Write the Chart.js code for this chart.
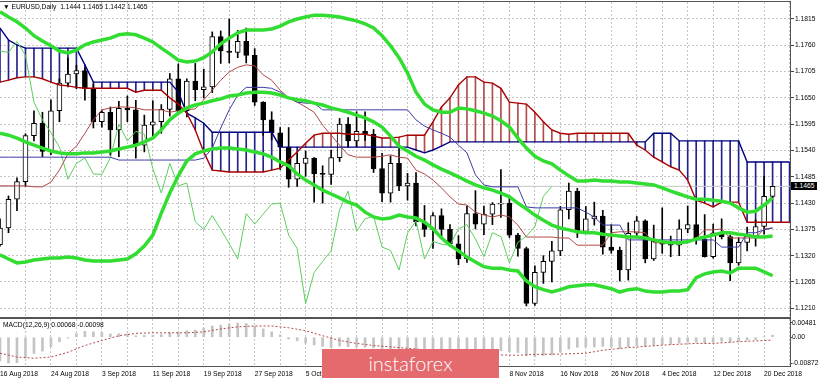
<!DOCTYPE html>
<html><head><meta charset="utf-8">
<script src="https://cdn.jsdelivr.net/npm/chart.js@4.4.1/dist/chart.umd.min.js"></script>
<style>
html,body{margin:0;padding:0;background:#fff;}
#wrap{position:relative;width:820px;height:380px;overflow:hidden;background:#fff;font-family:"Liberation Sans",Arial,sans-serif;}
canvas{position:absolute;left:0;}
#c1{top:0;}
#c2{top:317px;}
.txt{position:absolute;font-size:6.7px;line-height:7px;color:#000;white-space:nowrap;}
#tag{position:absolute;left:791px;top:182px;width:26px;height:8px;background:#000;color:#fff;font-size:6.7px;line-height:8px;padding-left:3px;box-sizing:border-box;}
#wm{position:absolute;left:322px;top:349px;width:177px;height:29px;background:#e46a6e;color:#fff;font-family:Lato,"Open Sans",sans-serif;font-weight:300;font-size:20px;line-height:28px;text-align:center;}
</style></head><body>
<div id="wrap">
<canvas id="c1" width="820" height="317"></canvas>
<canvas id="c2" width="820" height="63"></canvas>
<div class="txt" style="left:3px;top:2.5px;">&#9660;&nbsp;EURUSD,Daily&nbsp; 1.1444 1.1465 1.1442 1.1465</div>
<div class="txt" style="left:3px;top:321px;">MACD(12,26,9) 0.00068 -0.00098</div>
<div id="tag">1.1465</div>
<div id="wm">instaforex</div>
</div>
<script>
// ---------- data ----------
const dateTickIdx = [0,6,12,18,24,30,36,42,48,54,60,66,72,78,84,90];
const dateTickLabels = ["16 Aug 2018","24 Aug 2018","3 Sep 2018","11 Sep 2018","19 Sep 2018","27 Sep 2018","5 Oct 2018","15 Oct 2018","23 Oct 2018","31 Oct 2018","8 Nov 2018","16 Nov 2018","26 Nov 2018","4 Dec 2018","12 Dec 2018","20 Dec 2018"];
const priceTicks = [1.1815,1.1760,1.1705,1.1650,1.1595,1.1540,1.1485,1.1430,1.1375,1.1320,1.1265,1.1210];
const macdTicks = [0.00481,0,-0.00872];

const opens = [1.1343,1.1378,1.1438,1.1475,1.1571,1.1597,1.1538,1.1623,1.1681,1.1700,
1.1707,1.1670,1.1600,1.1620,1.1583,1.1628,1.1625,1.1551,1.1593,1.1600,
1.1626,1.1690,1.1623,1.1685,1.1667,1.1673,1.1778,1.1748,1.1745,1.1768,
1.1739,1.1641,1.1604,1.1577,1.1547,1.1480,1.1513,1.1524,1.1491,1.1490,
1.1525,1.1595,1.1560,1.1580,1.1574,1.1502,1.1451,1.1513,1.1466,1.1472,
1.1391,1.1375,1.1404,1.1375,1.1345,1.1313,1.1408,1.1386,1.1407,1.1428,
1.1430,1.1363,1.1335,1.1220,1.1285,1.1308,1.1330,1.1416,1.1455,1.1371,
1.1397,1.1403,1.1338,1.1331,1.1290,1.1367,1.1393,1.1313,1.1350,1.1344,
1.1342,1.1376,1.1385,1.1355,1.1318,1.1368,1.1360,1.1305,1.1348,1.1361,
1.1381,1.1444];
const highs = [1.1397,1.1445,1.1483,1.1575,1.1623,1.1620,1.1646,1.1690,1.1733,1.1718,
1.1713,1.1679,1.1625,1.1631,1.1643,1.1654,1.1645,1.1614,1.1644,1.1636,
1.1701,1.1721,1.1690,1.1722,1.1710,1.1788,1.1790,1.1815,1.1791,1.1796,
1.1753,1.1642,1.1621,1.1588,1.1588,1.1535,1.1539,1.1525,1.1508,1.1541,
1.1607,1.1609,1.1621,1.1621,1.1584,1.1534,1.1529,1.1550,1.1492,1.1494,
1.1425,1.1410,1.1418,1.1385,1.1362,1.1424,1.1456,1.1424,1.1431,1.1500,
1.1441,1.1367,1.1338,1.1299,1.1320,1.1350,1.1423,1.1472,1.1461,1.1423,
1.1432,1.1415,1.1385,1.1338,1.1389,1.1402,1.1395,1.1384,1.1420,1.1361,
1.1395,1.1424,1.1443,1.1406,1.1386,1.1397,1.1363,1.1358,1.1380,1.1395,
1.1486,1.1465];
const lows = [1.1340,1.1368,1.1414,1.1465,1.1560,1.1527,1.1531,1.1600,1.1673,1.1669,
1.1645,1.1587,1.1589,1.1530,1.1527,1.1600,1.1524,1.1537,1.1570,1.1576,
1.1612,1.1621,1.1610,1.1644,1.1650,1.1661,1.1722,1.1723,1.1734,1.1723,
1.1634,1.1572,1.1562,1.1500,1.1463,1.1465,1.1486,1.1432,1.1430,1.1469,
1.1517,1.1547,1.1548,1.1561,1.1494,1.1433,1.1432,1.1456,1.1436,1.1382,
1.1360,1.1335,1.1360,1.1339,1.1301,1.1306,1.1376,1.1364,1.1385,1.1400,
1.1358,1.1319,1.1215,1.1216,1.1262,1.1265,1.1320,1.1397,1.1358,1.1366,
1.1384,1.1323,1.1325,1.1267,1.1269,1.1361,1.1305,1.1310,1.1325,1.1318,
1.1320,1.1368,1.1344,1.1317,1.1315,1.1355,1.1268,1.1300,1.1330,1.1340,
1.1365,1.1442];
const closes = [1.1378,1.1438,1.1475,1.1571,1.1597,1.1538,1.1623,1.1681,1.1700,1.1707,
1.1670,1.1600,1.1620,1.1583,1.1628,1.1625,1.1551,1.1593,1.1600,1.1626,
1.1690,1.1623,1.1685,1.1667,1.1673,1.1778,1.1748,1.1745,1.1768,1.1739,
1.1641,1.1604,1.1577,1.1547,1.1480,1.1513,1.1524,1.1491,1.1490,1.1525,
1.1595,1.1560,1.1580,1.1574,1.1502,1.1451,1.1513,1.1466,1.1472,1.1391,
1.1375,1.1404,1.1375,1.1345,1.1313,1.1408,1.1386,1.1407,1.1428,1.1430,
1.1363,1.1335,1.1220,1.1285,1.1308,1.1330,1.1416,1.1455,1.1371,1.1397,
1.1403,1.1338,1.1331,1.1290,1.1367,1.1393,1.1313,1.1350,1.1344,1.1342,
1.1376,1.1385,1.1355,1.1318,1.1368,1.1360,1.1305,1.1348,1.1361,1.1381,
1.1444,1.1465];

const bbUpper = [1.1830,1.1819,1.1809,1.1796,1.1780,1.1769,1.1759,1.1748,1.1744,1.1750,
1.1761,1.1767,1.1771,1.1775,1.1782,1.1784,1.1782,1.1775,1.1767,1.1754,
1.1742,1.1729,1.1725,1.1727,1.1734,1.1746,1.1763,1.1775,1.1786,1.1792,
1.1792,1.1792,1.1794,1.1800,1.1809,1.1815,1.1819,1.1823,1.1823,1.1821,
1.1819,1.1815,1.1811,1.1805,1.1796,1.1780,1.1759,1.1734,1.1702,1.1662,
1.1637,1.1625,1.1620,1.1620,1.1629,1.1627,1.1623,1.1618,1.1612,1.1602,
1.1589,1.1566,1.1545,1.1528,1.1518,1.1512,1.1499,1.1487,1.1476,1.1476,
1.1478,1.1476,1.1476,1.1474,1.1474,1.1472,1.1470,1.1468,1.1462,1.1455,
1.1449,1.1443,1.1438,1.1438,1.1436,1.1434,1.1430,1.1420,1.1411,1.1413,
1.1426,1.1441];
const bbMiddle = [1.1576,1.1572,1.1566,1.1558,1.1551,1.1545,1.1539,1.1535,1.1533,1.1533,
1.1535,1.1535,1.1537,1.1539,1.1543,1.1547,1.1551,1.1558,1.1566,1.1583,
1.1604,1.1618,1.1629,1.1635,1.1639,1.1644,1.1648,1.1654,1.1656,1.1660,
1.1662,1.1662,1.1660,1.1656,1.1650,1.1646,1.1644,1.1639,1.1635,1.1629,
1.1625,1.1620,1.1614,1.1608,1.1600,1.1589,1.1570,1.1549,1.1539,1.1528,
1.1520,1.1510,1.1501,1.1493,1.1485,1.1476,1.1468,1.1462,1.1457,1.1451,
1.1443,1.1430,1.1418,1.1405,1.1394,1.1384,1.1378,1.1374,1.1370,1.1368,
1.1368,1.1365,1.1363,1.1361,1.1359,1.1359,1.1357,1.1353,1.1349,1.1347,
1.1347,1.1349,1.1355,1.1359,1.1363,1.1368,1.1368,1.1365,1.1363,1.1359,
1.1359,1.1361];
const bbLower = [1.1322,1.1313,1.1305,1.1307,1.1311,1.1313,1.1315,1.1315,1.1317,1.1315,
1.1311,1.1309,1.1309,1.1309,1.1311,1.1313,1.1324,1.1340,1.1363,1.1409,
1.1451,1.1487,1.1518,1.1533,1.1539,1.1543,1.1545,1.1545,1.1543,1.1541,
1.1537,1.1533,1.1526,1.1516,1.1508,1.1491,1.1478,1.1468,1.1457,1.1449,
1.1441,1.1432,1.1426,1.1411,1.1401,1.1397,1.1399,1.1405,1.1401,1.1399,
1.1390,1.1376,1.1357,1.1342,1.1330,1.1317,1.1307,1.1297,1.1294,1.1294,
1.1290,1.1288,1.1267,1.1255,1.1249,1.1244,1.1249,1.1255,1.1257,1.1259,
1.1259,1.1255,1.1251,1.1244,1.1249,1.1251,1.1246,1.1244,1.1244,1.1246,
1.1246,1.1249,1.1274,1.1282,1.1286,1.1288,1.1284,1.1294,1.1294,1.1294,
1.1286,1.1278];

const tenkan = [1.1466,1.1466,1.1466,1.1466,1.1464,1.1464,1.1474,1.1499,1.1533,1.1549,
1.1576,1.1604,1.1625,1.1629,1.1631,1.1631,1.1629,1.1625,1.1625,1.1625,
1.1620,1.1623,1.1625,1.1627,1.1646,1.1666,1.1687,1.1704,1.1714,1.1719,
1.1717,1.1698,1.1687,1.1666,1.1650,1.1641,1.1631,1.1620,1.1593,1.1572,
1.1551,1.1531,1.1526,1.1526,1.1526,1.1528,1.1531,1.1526,1.1524,1.1499,
1.1491,1.1478,1.1462,1.1443,1.1428,1.1426,1.1411,1.1405,1.1401,1.1405,
1.1401,1.1384,1.1359,1.1359,1.1359,1.1359,1.1357,1.1357,1.1342,1.1342,
1.1342,1.1342,1.1368,1.1370,1.1370,1.1370,1.1368,1.1347,1.1347,1.1347,
1.1347,1.1347,1.1357,1.1374,1.1374,1.1376,1.1357,1.1357,1.1357,1.1357,
1.1376,1.1378];
const kijun = [1.1526,1.1526,1.1526,1.1526,1.1526,1.1526,1.1526,1.1526,1.1526,1.1526,
1.1526,1.1526,1.1526,1.1526,1.1520,1.1520,1.1520,1.1520,1.1520,1.1520,
1.1520,1.1520,1.1520,1.1520,1.1524,1.1545,1.1587,1.1625,1.1656,1.1672,
1.1672,1.1672,1.1670,1.1662,1.1650,1.1641,1.1639,1.1639,1.1625,1.1625,
1.1625,1.1625,1.1625,1.1625,1.1625,1.1625,1.1625,1.1625,1.1625,1.1604,
1.1591,1.1583,1.1576,1.1568,1.1551,1.1535,1.1489,1.1468,1.1464,1.1464,
1.1464,1.1464,1.1422,1.1420,1.1420,1.1420,1.1420,1.1420,1.1420,1.1411,
1.1401,1.1384,1.1384,1.1384,1.1353,1.1353,1.1353,1.1353,1.1353,1.1353,
1.1353,1.1353,1.1353,1.1353,1.1353,1.1338,1.1338,1.1338,1.1368,1.1368,
1.1374,1.1378];
const spanA = [1.1683,1.1687,1.1692,1.1694,1.1694,1.1690,1.1683,1.1677,1.1675,1.1672,
1.1670,1.1670,1.1670,1.1670,1.1670,1.1670,1.1662,1.1666,1.1666,1.1666,
1.1650,1.1637,1.1618,1.1583,1.1537,1.1499,1.1497,1.1495,1.1495,1.1495,
1.1495,1.1495,1.1499,1.1503,1.1520,1.1537,1.1555,1.1572,1.1576,1.1576,
1.1576,1.1574,1.1574,1.1574,1.1570,1.1566,1.1566,1.1568,1.1572,1.1572,
1.1572,1.1600,1.1631,1.1650,1.1677,1.1694,1.1694,1.1683,1.1681,1.1670,
1.1641,1.1639,1.1637,1.1620,1.1600,1.1583,1.1576,1.1574,1.1576,1.1576,
1.1576,1.1576,1.1576,1.1576,1.1576,1.1551,1.1541,1.1526,1.1516,1.1506,
1.1499,1.1478,1.1436,1.1430,1.1422,1.1432,1.1432,1.1432,1.1390,1.1390,
1.1390,1.1390,1.1390,1.1390];
const spanB = [1.1796,1.1771,1.1761,1.1754,1.1754,1.1754,1.1754,1.1754,1.1754,1.1754,
1.1719,1.1683,1.1683,1.1683,1.1683,1.1683,1.1683,1.1683,1.1683,1.1683,
1.1683,1.1662,1.1618,1.1608,1.1597,1.1578,1.1578,1.1578,1.1578,1.1578,
1.1578,1.1578,1.1578,1.1547,1.1547,1.1547,1.1547,1.1547,1.1547,1.1547,
1.1547,1.1547,1.1547,1.1547,1.1547,1.1547,1.1547,1.1547,1.1547,1.1541,
1.1535,1.1541,1.1549,1.1558,1.1558,1.1558,1.1558,1.1558,1.1558,1.1558,
1.1558,1.1558,1.1558,1.1558,1.1558,1.1558,1.1558,1.1558,1.1558,1.1558,
1.1558,1.1558,1.1558,1.1558,1.1558,1.1558,1.1558,1.1576,1.1576,1.1576,
1.1560,1.1560,1.1560,1.1560,1.1560,1.1560,1.1560,1.1560,1.1516,1.1516,
1.1516,1.1516,1.1516,1.1516];
const chikouShift = 26;

const macd = [-0.0080,-0.0087,-0.0086,-0.0070,-0.0055,-0.0047,-0.0032,-0.0015,-0.0003,0.0012,
0.0020,0.0018,0.0016,0.0011,0.0012,0.0011,0.0005,0.0006,0.0007,0.0009,
0.0016,0.0017,0.0022,0.0024,0.0031,0.0038,0.0041,0.0044,0.0048,0.0046,
0.0037,0.0028,0.0018,0.0008,-0.0006,-0.0012,-0.0020,-0.0026,-0.0031,-0.0034,
-0.0030,-0.0032,-0.0033,-0.0034,-0.0036,-0.0040,-0.0040,-0.0042,-0.0043,-0.0048,
-0.0051,-0.0052,-0.0054,-0.0057,-0.0060,-0.0056,-0.0053,-0.0050,-0.0047,-0.0046,
-0.0049,-0.0052,-0.0063,-0.0066,-0.0062,-0.0060,-0.0050,-0.0040,-0.0034,-0.0033,
-0.0033,-0.0031,-0.0033,-0.0039,-0.0033,-0.0028,-0.0031,-0.0028,-0.0025,-0.0024,
-0.0020,-0.0017,-0.0017,-0.0020,-0.0017,-0.0014,-0.0017,-0.0014,-0.0010,-0.0008,
0.0002,0.00068];
const signalIdx = [0,2,4,6,8,10,12,14,16,18,20,22,24,26,28,30,32,34,36,38,40,42,44,47,51,55,59,61,63,66,69,71,74,76,79,82,84,87,91];
const signalVal = [-0.0054,-0.0067,-0.0071,-0.0067,-0.0051,-0.0028,-0.0011,0.0005,0.0013,0.0015,0.0015,0.0015,0.0018,0.0028,0.0035,0.0038,0.0038,0.0032,0.0022,0.0005,-0.0011,-0.0021,-0.0028,-0.0035,-0.0045,-0.0054,-0.0060,-0.0061,-0.0058,-0.0057,-0.0054,-0.0044,-0.0035,-0.0031,-0.0025,-0.0021,-0.0021,-0.0015,-0.00098];

// ---------- layout constants ----------
const X_MAX = 93.05;
const gridIdx = []; for (let g = 0; g <= 93; g += 3) gridIdx.push(g);
const FONT = '"Liberation Sans", Arial, sans-serif';
Chart.defaults.font.family = FONT;
Chart.defaults.font.size = 6.7;
Chart.defaults.color = '#000';

const xy = arr => arr.map((v, i) => ({x: i, y: v}));
const lineDs = (data, color, width, order, extra) => Object.assign({type: 'line', data, borderColor: color, borderWidth: width, pointRadius: 0, tension: 0, fill: false, order}, extra || {});

const framePlugin = {
  id: 'frame',
  afterDraw(chart, args, o) {
    const {ctx, chartArea: a} = chart;
    ctx.save();
    ctx.fillStyle = o.color || '#555';
    if (o.top) ctx.fillRect(0, a.top - o.top, a.right + 1, o.top);
    if (o.bottom) ctx.fillRect(0, a.bottom, a.right + 1, o.bottom);
    ctx.restore();
  }
};

const lastClose = closes[closes.length - 1];

new Chart(document.getElementById('c1'), {
  type: 'bar',
  data: {datasets: [
    {type: 'bar', data: spanA.map((a, i) => ({x: i, y: [a, spanB[i]]})),
     backgroundColor: c => spanB[c.dataIndex] >= spanA[c.dataIndex] ? '#22228c' : '#b34a4a',
     barThickness: 1, grouped: false, order: 10},
    lineDs([{x: 0, y: lastClose}, {x: X_MAX, y: lastClose}], '#c4c4c4', 1, 9),
    {type: 'bar', data: highs.map((h, i) => ({x: i, y: [lows[i], h]})), backgroundColor: '#000',
     barThickness: 1, grouped: false, order: 8},
    {type: 'bar', data: opens.map((o, i) => ({x: i, y: [o, closes[i]]})),
     backgroundColor: c => closes[c.dataIndex] >= opens[c.dataIndex] ? '#fff' : '#000',
     borderColor: '#000', borderWidth: 1, borderSkipped: false, barThickness: 5, minBarLength: 1,
     grouped: false, order: 7},
    lineDs(xy(spanA), '#a80000', 1.4, 6),
    lineDs(xy(spanB), '#000080', 1.4, 6),
    lineDs(xy(kijun), '#3c3ca6', 1, 5),
    lineDs(xy(tenkan), '#b04848', 1, 5),
    lineDs(closes.slice(chikouShift).map((v, i) => ({x: i, y: v})), '#5ccf5c', 1, 5),
    lineDs(xy(bbUpper), '#30dd30', 3.5, 1),
    lineDs(xy(bbMiddle), '#30dd30', 3.5, 1),
    lineDs(xy(bbLower), '#30dd30', 3.5, 1)
  ]},
  options: {
    responsive: false, animation: false, devicePixelRatio: 1, events: [],
    layout: {padding: {top: 2, left: 0, right: 0, bottom: 0}, autoPadding: false},
    plugins: {legend: {display: false}, tooltip: {enabled: false}, frame: {top: 1, color: '#555'}},
    scales: {
      x: {type: 'linear', min: 0, max: X_MAX, offset: false,
          ticks: {display: false, autoSkip: false, maxRotation: 0},
          grid: {color: c => c.tick && c.tick.value === 0 ? 'rgba(0,0,0,0)' : '#c4c4c4', drawTicks: false, offset: false},
          border: {display: false, dash: [2, 2]},
          afterBuildTicks: s => { s.ticks = gridIdx.map(v => ({value: v})); },
          afterFit: s => { s.height = 0; s.paddingLeft = 0; s.paddingRight = 0; }},
      y: {type: 'linear', position: 'right', min: 1.11918, max: 1.18505, beginAtZero: false,
          ticks: {autoSkip: false, padding: 1, color: '#000', callback: v => Number(v).toFixed(4)},
          grid: {color: '#c4c4c4', tickColor: '#444', tickLength: 4},
          border: {display: true, color: '#555', width: 1, dash: [2, 2]},
          afterBuildTicks: s => { s.ticks = priceTicks.map(v => ({value: v})); },
          afterFit: s => { s.width = 30; s.paddingTop = 0; s.paddingBottom = 0; }}
    }
  },
  plugins: [framePlugin]
});

const labelMap = {};
dateTickIdx.forEach((v, k) => { labelMap[v] = dateTickLabels[k]; });

new Chart(document.getElementById('c2'), {
  type: 'bar',
  data: {datasets: [
    lineDs(signalIdx.map((v, k) => ({x: v, y: signalVal[k]})), '#b84a4a', 1, 1, {borderDash: [2, 2]}),
    {type: 'bar', data: xy(macd), backgroundColor: '#c4c4c4', barThickness: 2, grouped: false, order: 2}
  ]},
  options: {
    responsive: false, animation: false, devicePixelRatio: 1, events: [],
    layout: {padding: {top: 2, left: 0, right: 0, bottom: 0}, autoPadding: false},
    plugins: {legend: {display: false}, tooltip: {enabled: false}, frame: {top: 2, bottom: 1, color: '#555'}},
    scales: {
      x: {type: 'linear', min: 0, max: X_MAX, offset: false,
          ticks: {autoSkip: false, maxRotation: 0, minRotation: 0, align: 'start', padding: 4, color: '#000',
                  callback: v => labelMap[v] !== undefined ? labelMap[v] : ''},
          grid: {color: c => c.tick && c.tick.value === 0 ? 'rgba(0,0,0,0)' : '#c4c4c4', drawTicks: false, offset: false},
          border: {display: false, dash: [2, 2]},
          afterBuildTicks: s => { s.ticks = gridIdx.map(v => ({value: v})); },
          afterFit: s => { s.height = 14; s.paddingLeft = 0; s.paddingRight = 0; }},
      y: {type: 'linear', position: 'right', min: -0.00973, max: 0.00616, beginAtZero: false,
          ticks: {autoSkip: false, padding: 0, color: '#000', callback: v => v === 0 ? '0.00' : Number(v).toFixed(5)},
          grid: {drawOnChartArea: false, tickColor: '#444', tickLength: 2},
          border: {display: true, color: '#555', width: 1},
          afterBuildTicks: s => { s.ticks = macdTicks.map(v => ({value: v})); },
          afterFit: s => { s.width = 30; s.paddingTop = 0; s.paddingBottom = 0; }}
    }
  },
  plugins: [framePlugin]
});
</script>
</body></html>
